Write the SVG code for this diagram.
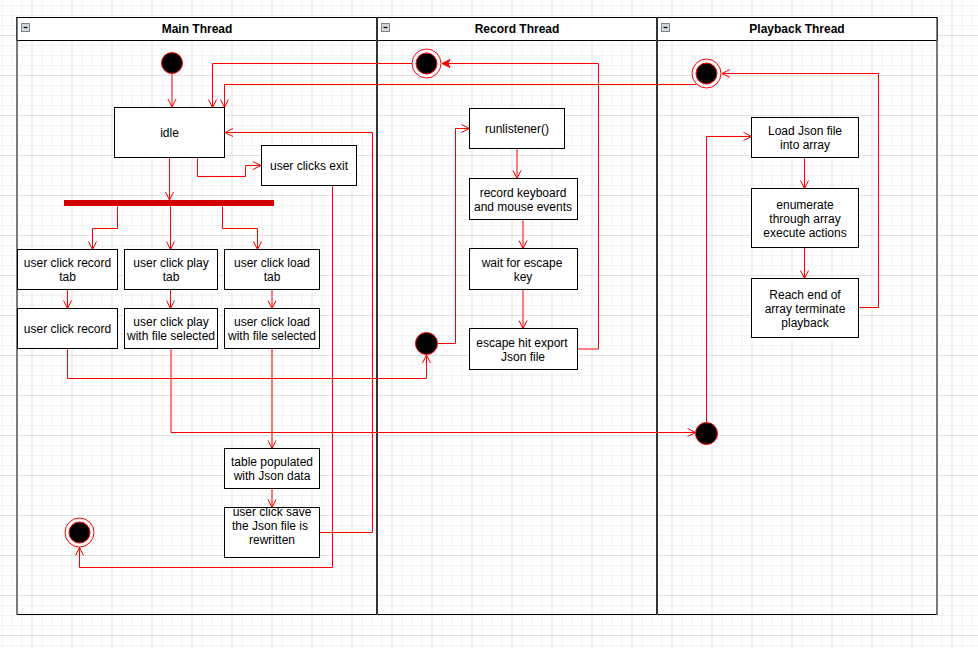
<svg xmlns="http://www.w3.org/2000/svg" width="978" height="648" viewBox="0 0 978 648">
<style>
.box{fill:#fff;stroke:#000;stroke-width:1}
.t{font-family:"Liberation Sans",Arial,sans-serif;font-size:12px;fill:#000;text-anchor:middle}
.title{font-family:"Liberation Sans",Arial,sans-serif;font-size:12px;font-weight:bold;fill:#000;text-anchor:middle}
.pool{fill:none;stroke:#000;stroke-width:1}
.hdr{fill:#fff;stroke:#000;stroke-width:1}
.edge{fill:none;stroke:#ff0000;stroke-width:1;marker-end:url(#open)}
.edgef{fill:none;stroke:#ff0000;stroke-width:1;marker-end:url(#filled)}
.start{fill:#000;stroke:#ff0000;stroke-width:1}
.ring{fill:#fff;stroke:#ff0000;stroke-width:1}
.icon{fill:#d8d8d8;stroke:#7a8799;stroke-width:1}
.side{stroke:#7a7a7a;stroke-width:2;fill:none}
.div{stroke:#333;stroke-width:2;fill:none}
</style>
<defs>
<pattern id="grid" x="1.5" y="5" width="40" height="40" patternUnits="userSpaceOnUse">
<path d="M0.5,0 V40 M10.5,0 V40 M20.5,0 V40 M0,0.5 H40 M0,10.5 H40 M0,20.5 H40" stroke="#f3f3f3" stroke-width="1" fill="none"/>
<path d="M30.5,0 V40 M0,30.5 H40" stroke="#e2e2e2" stroke-width="1" fill="none"/>
</pattern>
<marker id="open" markerUnits="userSpaceOnUse" markerWidth="10" markerHeight="10" refX="8" refY="4" orient="auto" overflow="visible">
<path d="M0,0 L8,4 L0,8" fill="none" stroke="#ff0000" stroke-width="1"/>
</marker>
<marker id="filled" markerUnits="userSpaceOnUse" markerWidth="10" markerHeight="10" refX="8" refY="4" orient="auto" overflow="visible">
<path d="M0,0 L8,4 L0,8 L2,4 Z" fill="#ff0000" stroke="#ff0000" stroke-width="1"/>
</marker>
</defs>
<rect x="0" y="0" width="978" height="648" fill="#fff"/>
<rect x="0" y="0" width="978" height="648" fill="url(#grid)"/>

<g id="pools">
<g id="pool-main">
<rect class="pool" x="17" y="17.5" width="360" height="597"/>
<rect class="hdr" x="17" y="17.5" width="360" height="23"/>
<rect class="icon" x="21.5" y="23.5" width="8" height="8"/>
<path d="M23.5,27.5 H27.5" stroke="#000" stroke-width="1.2"/>
<text class="title" x="197" y="32.5">Main Thread</text>
</g>
<g id="pool-record">
<rect class="pool" x="377" y="17.5" width="280" height="597"/>
<rect class="hdr" x="377" y="17.5" width="280" height="23"/>
<rect class="icon" x="381.5" y="23.5" width="8" height="8"/>
<path d="M383.5,27.5 H387.5" stroke="#000" stroke-width="1.2"/>
<text class="title" x="517" y="32.5">Record Thread</text>
</g>
<g id="pool-playback">
<rect class="pool" x="657" y="17.5" width="280" height="597"/>
<rect class="hdr" x="657" y="17.5" width="280" height="23"/>
<rect class="icon" x="661.5" y="23.5" width="8" height="8"/>
<path d="M663.5,27.5 H667.5" stroke="#000" stroke-width="1.2"/>
<text class="title" x="797" y="32.5">Playback Thread</text>
</g>
<path class="side" d="M17,40.5 V614.5 M937,40.5 V614.5"/>
<path class="div" d="M377,17.5 V615 M657,17.5 V615"/>
</g>

<g id="connectors">
<path class="edge" d="M172,74 V107"/>
<path class="edge" d="M169.5,157.5 V200"/>
<path class="edge" d="M197.5,157.5 V176.5 H245.5 V165.5 H261"/>
<path class="edge" d="M117.5,206 V228.5 H92.5 V249.5"/>
<path class="edge" d="M170.5,206 V249.5"/>
<path class="edge" d="M222.5,206 V228.5 H257.5 V249.5"/>
<path class="edge" d="M67.5,289.5 V308.5"/>
<path class="edge" d="M170.5,289.5 V308.5"/>
<path class="edge" d="M272,289.5 V308.5"/>
<path class="edge" d="M67.5,348.5 V378.5 H426.5 V355"/>
<path class="edge" d="M171,348.5 V432.5 H695.5"/>
<path class="edge" d="M272,348.5 V448.5"/>
<path class="edge" d="M272,488.5 V507.5"/>
<path class="edge" d="M319.5,532.5 H372.5 V132.5 H225"/>
<path class="edge" d="M332.5,185.5 V567.5 H79.5 V547.5"/>
<path class="edge" d="M412,63.5 H212.5 V107.5"/>
<path class="edge" d="M696,84.5 H224.5 V107.5"/>
<path class="edge" d="M437.5,343.5 H455.5 V128.5 H469.5"/>
<path class="edge" d="M517,148.5 V178.5"/>
<path class="edge" d="M523,219.5 V248.5"/>
<path class="edge" d="M523,289.5 V328.5"/>
<path class="edgef" d="M577.5,349 H598.5 V63.5 H442"/>
<path class="edge" d="M706.5,422.5 V136.5 H751.5"/>
<path class="edge" d="M804.5,157.5 V188.5"/>
<path class="edge" d="M804.5,247.5 V278.5"/>
<path class="edge" d="M858.5,307.5 H878.5 V73.5 H722"/>
</g>

<g id="main-start"><circle class="start" cx="172" cy="63" r="10.5"/></g>
<g id="main-end"><circle class="ring" cx="79.5" cy="532.5" r="14.5"/><circle class="start" cx="79.5" cy="532.5" r="10.5"/></g>
<g id="idle"><rect class="box" x="114.5" y="107.5" width="110" height="50"/><text class="t" x="169.5" y="136.5">idle</text></g>
<g id="user-clicks-exit"><rect class="box" x="261.5" y="145.5" width="95" height="40"/><text class="t" x="309" y="169.5">user clicks exit</text></g>
<g id="fork-bar"><rect x="64" y="200" width="210" height="6" fill="#d40000"/></g>
<g id="record-tab"><rect class="box" x="17.5" y="249.5" width="100" height="40"/><text class="t" x="67.5" y="267">user click record</text><text class="t" x="67.5" y="281">tab</text></g>
<g id="play-tab"><rect class="box" x="124.5" y="249.5" width="93" height="40"/><text class="t" x="171" y="267">user click play</text><text class="t" x="171" y="281">tab</text></g>
<g id="load-tab"><rect class="box" x="224.5" y="249.5" width="95" height="40"/><text class="t" x="272" y="267">user click load</text><text class="t" x="272" y="281">tab</text></g>
<g id="click-record"><rect class="box" x="17.5" y="308.5" width="100" height="40"/><text class="t" x="67.5" y="333">user click record</text></g>
<g id="click-play-file"><rect class="box" x="124.5" y="308.5" width="93" height="40"/><text class="t" x="171" y="326">user click play</text><text class="t" x="171" y="340">with file selected</text></g>
<g id="click-load-file"><rect class="box" x="224.5" y="308.5" width="95" height="40"/><text class="t" x="272" y="326">user click load</text><text class="t" x="272" y="340">with file selected</text></g>
<g id="table-populated"><rect class="box" x="224.5" y="448.5" width="95" height="40"/><text class="t" x="272" y="466">table populated</text><text class="t" x="272" y="480">with Json data</text></g>
<g id="click-save"><rect class="box" x="224.5" y="507.5" width="95" height="50"/><text class="t" x="272" y="516">user click save</text><text class="t" x="270" y="530">the Json file is</text><text class="t" x="272" y="544">rewritten</text></g>

<g id="record-end"><circle class="ring" cx="426.5" cy="63.5" r="14.5"/><circle class="start" cx="426.5" cy="63.5" r="10.5"/></g>
<g id="record-start"><circle class="start" cx="426.5" cy="343.5" r="11"/></g>
<g id="runlistener"><rect class="box" x="469.5" y="108.5" width="95" height="40"/><text class="t" x="517" y="132.5">runlistener()</text></g>
<g id="record-events"><rect class="box" x="469.5" y="178.5" width="108" height="41"/><text class="t" x="523" y="197">record keyboard</text><text class="t" x="523" y="211">and mouse events</text></g>
<g id="wait-escape"><rect class="box" x="469.5" y="248.5" width="108" height="41"/><text class="t" x="522" y="267">wait for escape</text><text class="t" x="523" y="281">key</text></g>
<g id="escape-export"><rect class="box" x="469.5" y="328.5" width="108" height="41"/><text class="t" x="522" y="347">escape hit export</text><text class="t" x="523" y="361">Json file</text></g>

<g id="playback-end"><circle class="ring" cx="706.5" cy="73.5" r="14.5"/><circle class="start" cx="706.5" cy="73.5" r="10.5"/></g>
<g id="playback-start"><circle class="start" cx="706.5" cy="433.5" r="11"/></g>
<g id="load-json"><rect class="box" x="751.5" y="117.5" width="107" height="40"/><text class="t" x="805" y="135">Load Json file</text><text class="t" x="805" y="149">into array</text></g>
<g id="enumerate"><rect class="box" x="751.5" y="188.5" width="107" height="59"/><text class="t" x="805" y="209">enumerate</text><text class="t" x="805" y="223">through array</text><text class="t" x="805" y="237">execute actions</text></g>
<g id="reach-end"><rect class="box" x="751.5" y="278.5" width="107" height="59"/><text class="t" x="805" y="299">Reach end of</text><text class="t" x="805" y="313">array terminate</text><text class="t" x="805" y="327">playback</text></g>
</svg>
